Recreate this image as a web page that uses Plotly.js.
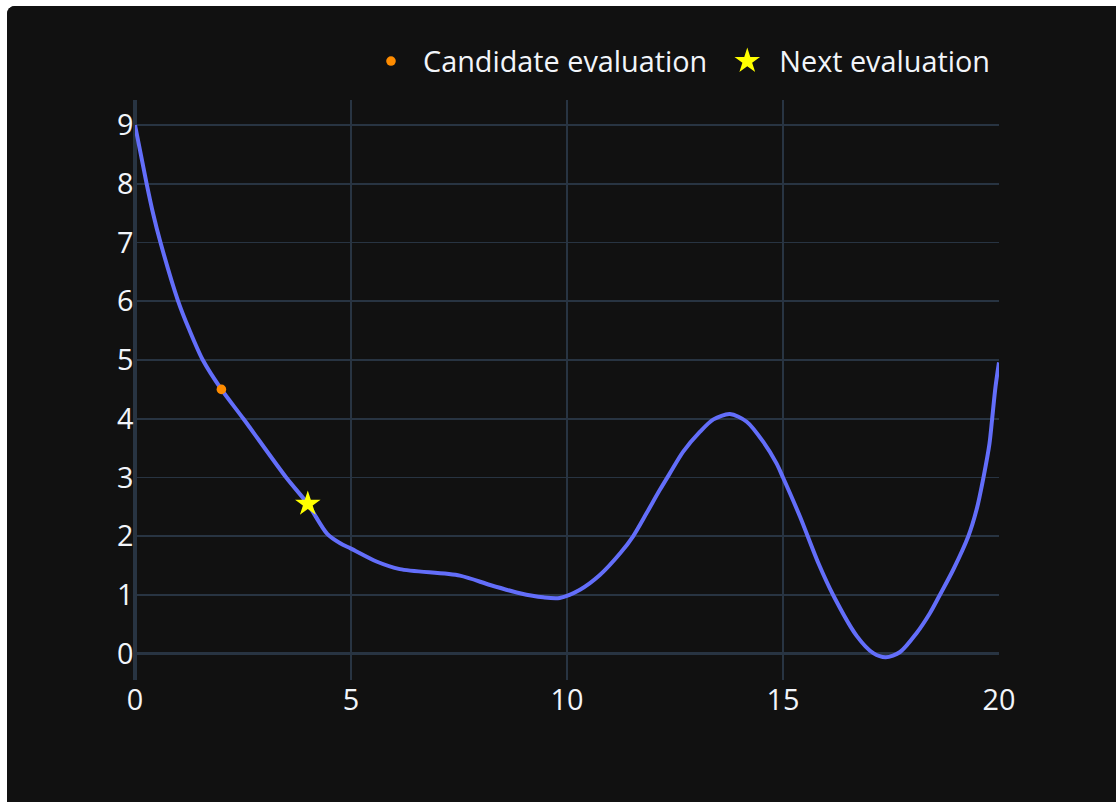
<!DOCTYPE html>
<html>
<head>
<meta charset="utf-8">
<script src="https://cdn.plot.ly/plotly-3.0.1.min.js"></script>
<style>
  html, body { margin: 0; padding: 0; background: #ffffff; overflow: hidden; width: 1116px; height: 802px; }
  #wrap { position: absolute; left: 7px; top: 6px; width: 1109px; height: 796px; overflow: hidden;
          border-radius: 8px 0 0 0; background: #111111; }
  #chart { width: 700px; height: 500px; transform: scale(1.6); transform-origin: 0 0; }
</style>
</head>
<body>
<div id="wrap"><div id="chart"></div></div>
<script>
// Objective function curve
const curveX = [0, 0.27, 0.42, 0.59, 1.0, 1.26, 1.57, 2.0, 2.51, 3.5, 4.0, 4.45, 4.75, 5.0, 5.59, 6.13, 7.52, 8.22, 8.91, 9.45, 9.83, 10.30, 10.76, 11.23, 11.53, 11.84, 12.15, 12.38, 12.69, 13.08, 13.39, 13.77, 14.16, 14.54, 14.85, 15.0, 15.39, 15.82, 16.16, 16.71, 17.09, 17.38, 17.71, 18.09, 18.40, 18.63, 18.94, 19.29, 19.48, 19.64, 19.78, 19.84, 19.92, 20];
const curveY = [9, 8.0, 7.49, 7.0, 6.0, 5.51, 5.0, 4.5, 4.0, 3.0, 2.55, 2.04, 1.88, 1.79, 1.57, 1.44, 1.33, 1.17, 1.03, 0.96, 0.95, 1.09, 1.34, 1.71, 2.0, 2.39, 2.79, 3.07, 3.44, 3.78, 3.99, 4.08, 3.95, 3.61, 3.24, 3.0, 2.34, 1.54, 1.0, 0.30, 0.01, -0.06, 0.03, 0.35, 0.69, 1.0, 1.43, 2.0, 2.45, 3.0, 3.58, 3.99, 4.55, 4.96];

// Candidate evaluation
const candX = [2];
const candY = [4.5];

// Next evaluation
const nextX = [4];
const nextY = [2.55];

const names = ["Candidate evaluation", "Next evaluation"];

const traces = [
  {
    x: curveX, y: curveY, type: "scatter", mode: "lines",
    line: { color: "#636efa", width: 2.5, shape: "spline", smoothing: 0.8 },
    showlegend: false, hoverinfo: "skip"
  },
  {
    x: candX, y: candY, type: "scatter", mode: "markers", name: names[0],
    marker: { color: "#ff8c00", size: 6, symbol: "circle" }
  },
  {
    x: nextX, y: nextY, type: "scatter", mode: "markers", name: names[1],
    marker: { color: "#ffff00", size: 12, symbol: "star" }
  }
];

const layout = {
  width: 700, height: 500,
  paper_bgcolor: "#111111", plot_bgcolor: "#111111",
  font: { family: '"Open Sans", verdana, arial, sans-serif', size: 18, color: "#f2f5fa" },
  margin: { l: 80, r: 80, t: 59, b: 79 },
  xaxis: {
    range: [0, 20], tickvals: [0, 5, 10, 15, 20],
    gridcolor: "#283442", zeroline: true, zerolinecolor: "#283442", zerolinewidth: 2,
    showline: false, ticks: ""
  },
  yaxis: {
    range: [-0.44, 9.42], tickvals: [0, 1, 2, 3, 4, 5, 6, 7, 8, 9],
    gridcolor: "#283442", zeroline: true, zerolinecolor: "#283442", zerolinewidth: 2,
    showline: false, ticks: ""
  },
  legend: { orientation: "h", yanchor: "bottom", y: 1.016, xanchor: "right", x: 1,
            bgcolor: "rgba(0,0,0,0)" },
  showlegend: true
};

Plotly.newPlot("chart", traces, layout, { displayModeBar: false, responsive: false, staticPlot: true });
</script>
</body>
</html>
